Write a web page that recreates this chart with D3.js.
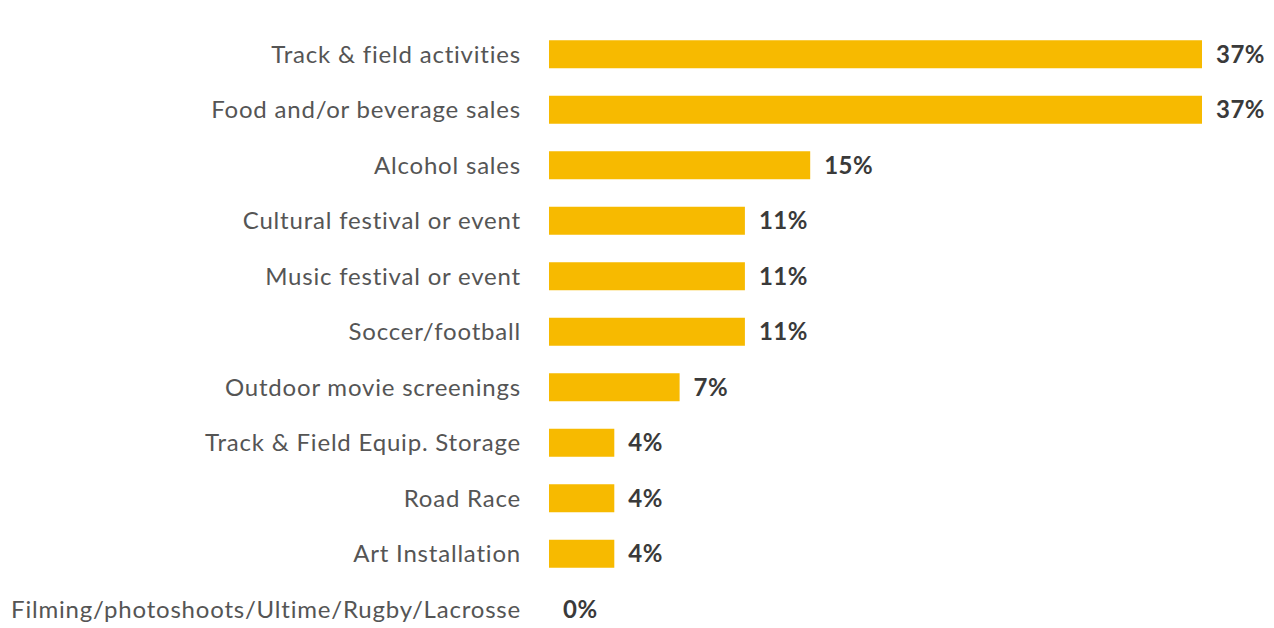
<!DOCTYPE html>
<html><head><meta charset="utf-8">
<script src="https://cdn.jsdelivr.net/npm/d3@7"></script>
<style>html,body{margin:0;padding:0;background:#fff;}</style>
</head><body>
<svg id="c" width="1274" height="628"></svg>
<script>
const categories = ["Track & field activities","Food and/or beverage sales","Alcohol sales","Cultural festival or event","Music festival or event","Soccer/football","Outdoor movie screenings","Track & Field Equip. Storage","Road Race","Art Installation","Filming/photoshoots/Ultime/Rugby/Lacrosse"];
const values = [37.0,37.0,14.8,11.1,11.1,11.1,7.4,3.7,3.7,3.7,0];
const valueLabels = ["37%","37%","15%","11%","11%","11%","7%","4%","4%","4%","0%"];

const svg = d3.select("#c");
const x = d3.scaleLinear().domain([0,37]).range([549,1202]);
const y = d3.scaleBand().domain(categories).range([26.5,637]).paddingInner(0.5).paddingOuter(0.25);

const g = svg.append("g");
const font = "Lato, 'Noto Sans', sans-serif";
g.selectAll("rect").data(categories).join("rect")
  .attr("x", x(0)).attr("y", d=>y(d)+y.bandwidth()/2-14)
  .attr("width", (d,i)=>x(values[i])-x(0)).attr("height", 28)
  .attr("fill", "#F7BA00");
g.selectAll("text.lab").data(categories).join("text").attr("class","lab")
  .attr("x", 521).attr("y", d=>y(d)+y.bandwidth()/2)
  .attr("dy","0.35em").attr("text-anchor","end")
  .attr("font-family", font).attr("font-size", 24).attr("letter-spacing", 0.8).attr("fill","#555")
  .text(d=>d);
g.selectAll("text.val").data(categories).join("text").attr("class","val")
  .attr("x", (d,i)=> values[i]===0 ? 563 : x(values[i])+14).attr("y", d=>y(d)+y.bandwidth()/2)
  .attr("dy","0.35em")
  .attr("font-family", font).attr("font-size", 24).attr("font-weight","bold").attr("letter-spacing", 0.5).attr("fill","#3a3a3a")
  .text((d,i)=>valueLabels[i]);
</script>
</body></html>
